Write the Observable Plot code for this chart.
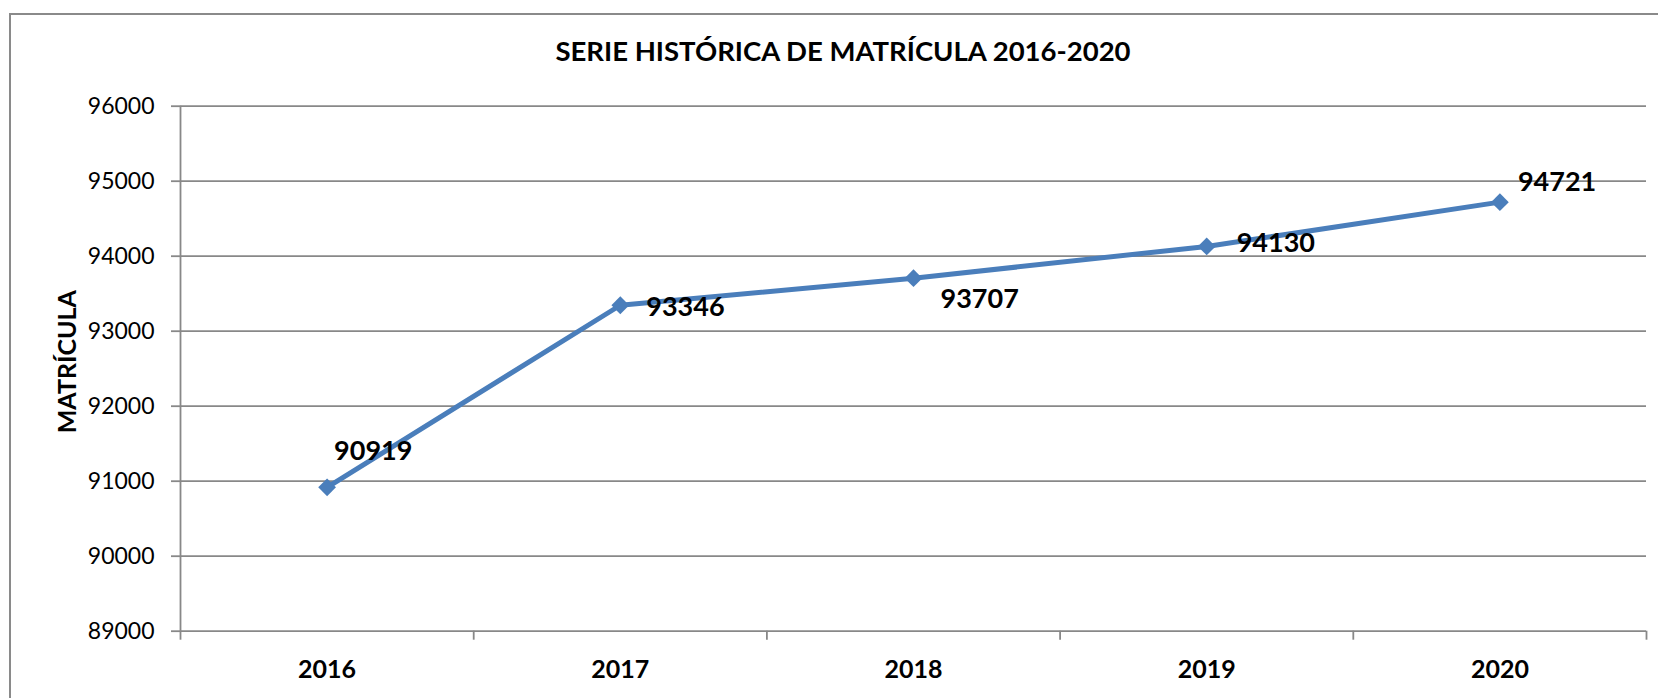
<!DOCTYPE html>
<html>
<head>
<meta charset="utf-8">
<script src="https://cdn.jsdelivr.net/npm/d3@7"></script>
<script src="https://cdn.jsdelivr.net/npm/@observablehq/plot@0.6"></script>
<style>
  html, body { margin: 0; padding: 0; background: #fff; overflow: hidden; }
  #wrap { position: relative; width: 1658px; height: 698px; font-family: Lato, "Open Sans", sans-serif; color: #000; }
  #frame { position: absolute; left: 9px; top: 13px; width: 1700px; height: 720px; box-sizing: border-box;
           border-left: 2px solid #8a8a8a; border-top: 2px solid #8a8a8a; pointer-events: none; }
  #title { position: relative; height: 70px; }
  #title span { position: absolute; left: 0; width: 1686px; top: 36px; line-height: 30px; text-align: center;
                font-weight: bold; font-size: 27.5px; }
  #chart { position: relative; }
  #chart svg { display: block; }
</style>
</head>
<body>
<div id="wrap">
  <div id="frame"></div>
  <div id="title"><span id="titleText"></span></div>
  <div id="chart"></div>
</div>
<script>
// ---- data ----
const years = [2016, 2017, 2018, 2019, 2020];
const matricula = [90919, 93346, 93707, 94130, 94721];
const yTicks = [89000, 90000, 91000, 92000, 93000, 94000, 95000, 96000];
const titleText = "SERIE HISTÓRICA DE MATRÍCULA 2016-2020";
const yLabel = "MATRÍCULA";

// ---- layout / style ----
const lineColor = "#4a7ebb";
const gridColor = "#888888";
const labelDx = [7, 26, 27, 30, 18];
const labelDy = [-36, 2, 21, -3, -20];

document.getElementById("titleText").textContent = titleText;

const data = years.map((year, i) => ({year, value: matricula[i]}));
const boundaries = [years[0] - 0.5, ...years.map(y => y + 0.5)];

const chart = Plot.plot({
  width: 1658,
  height: 628,
  marginLeft: 180,
  marginRight: 12,
  marginTop: 35.7,
  marginBottom: 67.3,
  style: {fontFamily: "Lato, 'Open Sans', sans-serif", color: "#000", background: "transparent"},
  x: {type: "linear", domain: [boundaries[0], boundaries[boundaries.length - 1]], label: null},
  y: {domain: [yTicks[0], yTicks[yTicks.length - 1]], label: null},
  marks: [
    Plot.ruleY(yTicks, {stroke: gridColor, strokeWidth: 1.8}),
    Plot.ruleX([boundaries[0]], {stroke: gridColor, strokeWidth: 1.8}),
    Plot.axisX(boundaries, {tickSize: 9, text: null, stroke: gridColor, strokeWidth: 1.8, label: null}),
    Plot.axisX(years, {tickSize: 0, tickPadding: 29, tickFormat: d => String(d), fontSize: 25, fontWeight: "bold", fill: "#000", label: null}),
    Plot.axisY(yTicks, {tickSize: 9, tickPadding: 17, stroke: gridColor, strokeWidth: 1.8, fill: "#000", fontSize: 23, tickFormat: d => String(d), label: null}),
    Plot.text([yLabel], {text: d => d, frameAnchor: "left", textAnchor: "middle", lineAnchor: "middle", rotate: -90, dx: -113, dy: -7, fontSize: 25, fontWeight: "bold", fill: "#000"}),
    Plot.line(data, {x: "year", y: "value", stroke: lineColor, strokeWidth: 5}),
    Plot.dot(data, {x: "year", y: "value", symbol: "diamond2", r: 8, fill: lineColor, stroke: "none"}),
    ...data.map((d, i) => Plot.text([d], {x: "year", y: "value", text: dd => String(dd.value), textAnchor: "start",
      dx: labelDx[i], dy: labelDy[i], fontSize: 27, fontWeight: "bold", fill: "#000"}))
  ]
});
document.getElementById("chart").appendChild(chart);
</script>
</body>
</html>
